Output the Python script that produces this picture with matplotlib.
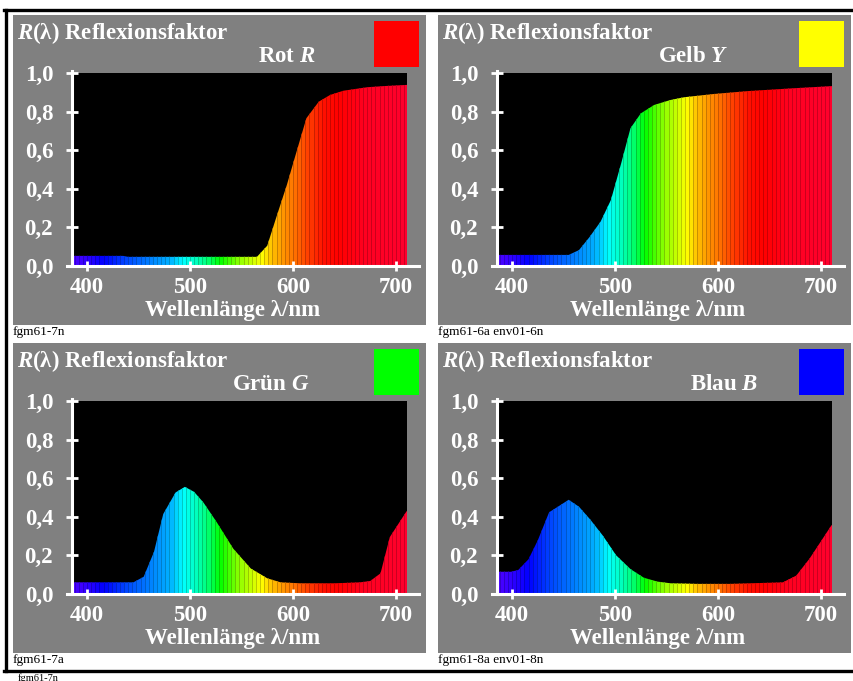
import numpy as np
import matplotlib.pyplot as plt
from matplotlib.colors import LinearSegmentedColormap, to_rgb
from matplotlib.patches import Rectangle
from matplotlib.lines import Line2D

plt.rcParams['font.family'] = ['Liberation Serif', 'DejaVu Serif']
plt.rcParams['font.weight'] = 'bold'
plt.rcParams['mathtext.fontset'] = 'custom'
plt.rcParams['mathtext.rm'] = 'Liberation Serif'
plt.rcParams['mathtext.it'] = 'Liberation Serif:italic:bold'
plt.rcParams['mathtext.bf'] = 'Liberation Serif:bold'

# Reflectance curves (wavelength in nm, R)
wl_rot = [380, 435, 440, 565, 575, 584, 594, 602, 613, 625, 636, 649, 672, 688, 710, 720]
r_rot = [0.050, 0.050, 0.045, 0.045, 0.103, 0.254, 0.418, 0.565, 0.765, 0.851, 0.886,
         0.908, 0.926, 0.932, 0.938, 0.940]

wl_gelb = [380, 455, 465, 475, 486, 496, 506, 515, 525, 538, 554, 567, 596, 629, 671, 711, 720]
r_gelb = [0.055, 0.055, 0.080, 0.146, 0.228, 0.340, 0.531, 0.713, 0.790, 0.834, 0.860,
          0.874, 0.891, 0.906, 0.920, 0.932, 0.934]

wl_gruen = [380, 445, 455, 465, 474, 486, 495, 504, 513, 526, 542, 559, 575, 588, 607,
            640, 665, 675, 685, 694, 710, 720]
r_gruen = [0.058, 0.058, 0.087, 0.216, 0.413, 0.525, 0.554, 0.528, 0.473, 0.370, 0.233,
           0.130, 0.079, 0.058, 0.053, 0.053, 0.058, 0.065, 0.105, 0.293, 0.425, 0.490]

wl_blau = [380, 399, 406, 416, 425, 436, 446, 455, 465, 476, 488, 501, 515, 528, 541, 554,
           580, 612, 663, 676, 689, 710, 720]
r_blau = [0.113, 0.113, 0.122, 0.178, 0.276, 0.422, 0.456, 0.487, 0.451, 0.384, 0.302,
          0.199, 0.127, 0.082, 0.062, 0.053, 0.050, 0.050, 0.058, 0.093, 0.182, 0.353, 0.400]

names = ['Rot $\\mathit{R}$', 'Gelb $\\mathit{Y}$', 'Grün $\\mathit{G}$', 'Blau $\\mathit{B}$']
swatch_colors = ['#ff0000', '#ffff00', '#00ff00', '#0000ff']
captions = ['fgm61-7n', 'fgm61-6a env01-6n', 'fgm61-7a', 'fgm61-8a env01-8n']
x_ticks = [400, 500, 600, 700]
y_ticks = [0.0, 0.2, 0.4, 0.6, 0.8, 1.0]
y_ticklabels = ['0,0', '0,2', '0,4', '0,6', '0,8', '1,0']

# spectral colours for the bands
spec_anchors = [(380, '#5000ff'), (392, '#4000ff'), (405, '#2000ff'), (415, '#0000ff'),
                (435, '#0040ff'), (460, '#0080ff'), (480, '#00b0ff'), (492, '#00ffff'),
                (505, '#00ffc0'), (515, '#00ff80'), (528, '#00ff00'), (545, '#80ff00'),
                (560, '#c8ff00'), (570, '#ffff00'), (580, '#ffc000'), (592, '#ff9000'),
                (602, '#ff7000'), (615, '#ff4000'), (630, '#ff1000'), (645, '#ff0000'),
                (670, '#ff0020'), (720, '#ff0030')]
lo, hi = spec_anchors[0][0], spec_anchors[-1][0]
spec_cmap = LinearSegmentedColormap.from_list(
    'spec', [((w - lo) / (hi - lo), c) for w, c in spec_anchors])

W, H = 854, 681
fig = plt.figure(figsize=(W / 100, H / 100), dpi=100)
fig.patch.set_facecolor('white')

def fx(x):
    return x / W

def fy(y):
    return 1 - y / H

offsets = [(13, 15), (438, 15), (13, 343), (438, 343)]
name_x = [245, 220, 219, 252]
curves = [(wl_rot, r_rot), (wl_gelb, r_gelb), (wl_gruen, r_gruen), (wl_blau, r_blau)]
band_edges = np.arange(384, 714, 4)

for i, (ox, oy) in enumerate(offsets):
    # grey panel
    fig.add_artist(Rectangle((fx(ox), fy(oy + 310)), 413 / W, 310 / H, transform=fig.transFigure,
                             facecolor='#808080', edgecolor='none', zorder=-2))
    ax = fig.add_axes([fx(ox + 59), fy(oy + 58 + 192.5), 335 / W, 192.5 / H])
    ax.set_facecolor('black')
    ax.set_xlim(385.4, 710.7)
    ax.set_ylim(0, 1)
    for s in ax.spines.values():
        s.set_visible(False)

    wl, refl = curves[i]
    poly = ax.fill_between(wl, refl, 0, facecolor='none', edgecolor='none')
    clip = poly.get_paths()[0]
    centers = band_edges[:-1] + 2
    cols = [spec_cmap((c - lo) / (hi - lo)) for c in centers]
    bars = ax.bar(centers, 1.0, width=4, color=cols,
                  edgecolor=[tuple(0.78 * np.array(to_rgb(c))) for c in cols], linewidth=0.6)
    for b in bars:
        b.set_clip_path(clip, ax.transData)

    # white axis lines
    ax.add_line(Line2D([-0.015, 1.036], [0, 0], transform=ax.transAxes, color='white',
                       lw=2.2, clip_on=False, zorder=5))
    ax.add_line(Line2D([0, 0], [0, 1.01], transform=ax.transAxes, color='white',
                       lw=2.2, clip_on=False, zorder=5))
    ax.set_xticks(x_ticks)
    ax.set_yticks(y_ticks)
    ax.set_yticklabels(y_ticklabels)
    ax.tick_params(axis='x', direction='inout', length=7, width=2, color='white',
                   labelcolor='white', labelsize=16.5, pad=5)
    ax.tick_params(axis='y', direction='inout', length=8, width=2, color='white',
                   labelcolor='white', labelsize=16.5, pad=9.5)

    fig.text(fx(ox + 4), fy(oy + 24), '$\\mathit{R}\\mathrm{(λ)}$ Reflexionsfaktor',
             color='white', fontsize=16.5, ha='left', va='baseline')
    fig.text(fx(ox + name_x[i]), fy(oy + 47), names[i], color='white', fontsize=16.5,
             ha='left', va='baseline')
    fig.add_artist(Rectangle((fx(ox + 361), fy(oy + 52)), 45 / W, 46 / H,
                             transform=fig.transFigure, facecolor=swatch_colors[i],
                             edgecolor='none'))
    fig.text(fx(ox + 220), fy(oy + 301), 'Wellenlänge λ/nm', color='white', fontsize=16.5,
             ha='center', va='baseline')
    fig.text(fx(ox), fy(oy + 311), captions[i], color='black', fontsize=9.5,
             fontweight='normal', ha='left', va='top')

# outer frame
for xs, ys in [([4, 854], [9.5, 9.5]), ([5.8, 5.8], [9.5, 671]), ([4, 854], [671, 671])]:
    fig.add_artist(Line2D([fx(x) for x in xs], [fy(y) for y in ys], transform=fig.transFigure,
                          color='black', lw=2.4))
fig.text(fx(18), fy(673), 'fgm61-7n', color='black', fontsize=7.5, fontweight='normal',
         ha='left', va='top')

fig.savefig('out.png', dpi=100)
